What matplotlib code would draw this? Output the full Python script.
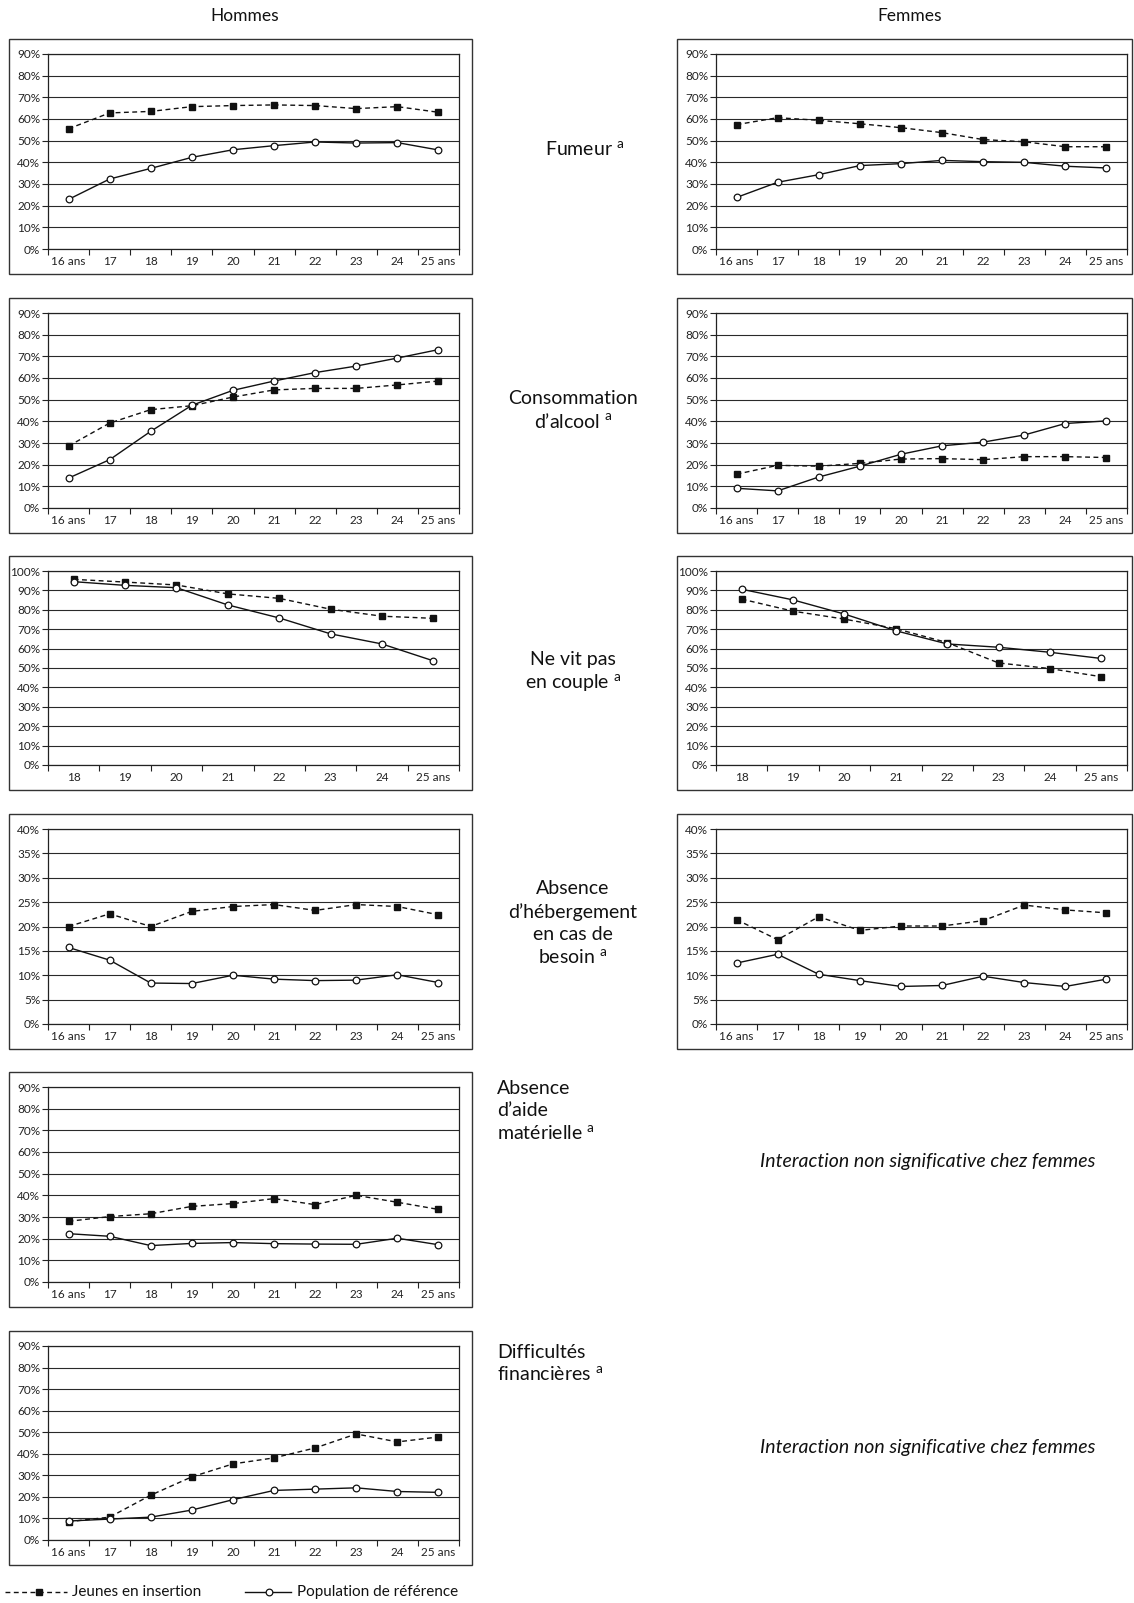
import matplotlib
matplotlib.use("Agg")
import matplotlib.pyplot as plt
from matplotlib.patches import Rectangle
import numpy as np

plt.rcParams['font.family'] = ['Lato', 'DejaVu Sans']
plt.rcParams['mathtext.fontset'] = 'custom'
plt.rcParams['mathtext.rm'] = 'Lato'

W, H = 1134, 1603

# categories
ages_16 = ['16 ans', '17', '18', '19', '20', '21', '22', '23', '24', '25 ans']
ages_18 = ['18', '19', '20', '21', '22', '23', '24', '25 ans']

# Fumeur
fum_h_jeunes = [55.5, 62.8, 63.5, 65.7, 66.2, 66.5, 66.2, 64.8, 65.7, 63.1]
fum_h_ref = [22.9, 32.3, 37.2, 42.3, 45.8, 47.7, 49.4, 48.9, 49.1, 45.7]
fum_f_jeunes = [57.4, 60.6, 59.4, 57.8, 56.0, 53.7, 50.5, 49.5, 47.2, 47.2]
fum_f_ref = [23.8, 30.8, 34.3, 38.5, 39.4, 40.9, 40.3, 40.0, 38.2, 37.4]

# Consommation d'alcool
alc_h_jeunes = [28.6, 39.2, 45.4, 47.2, 51.2, 54.5, 55.2, 55.2, 56.8, 58.6]
alc_h_ref = [13.8, 22.3, 35.4, 47.4, 54.3, 58.6, 62.5, 65.5, 69.2, 73.1]
alc_f_jeunes = [15.6, 19.7, 19.3, 20.6, 22.6, 22.8, 22.3, 23.7, 23.7, 23.3]
alc_f_ref = [9.1, 7.9, 14.3, 19.3, 24.8, 28.7, 30.4, 33.7, 39.0, 40.2]

# Ne vit pas en couple (18-25 ans)
cpl_h_jeunes = [95.7, 94.3, 92.8, 88.2, 85.9, 80.3, 76.7, 75.6]
cpl_h_ref = [94.5, 92.6, 91.4, 82.5, 75.8, 67.6, 62.4, 53.7]
cpl_f_jeunes = [85.5, 79.3, 75.2, 70.3, 63.1, 52.6, 49.7, 45.5]
cpl_f_ref = [90.6, 85.1, 77.8, 69.2, 62.4, 60.7, 58.1, 54.9]

# Absence d'hebergement en cas de besoin
heb_h_jeunes = [20.0, 22.6, 20.0, 23.1, 24.1, 24.5, 23.3, 24.5, 24.1, 22.4]
heb_h_ref = [15.7, 13.1, 8.4, 8.3, 10.0, 9.2, 8.9, 9.0, 10.1, 8.5]
heb_f_jeunes = [21.4, 17.3, 22.0, 19.2, 20.1, 20.1, 21.2, 24.4, 23.4, 22.8]
heb_f_ref = [12.5, 14.3, 10.2, 8.9, 7.7, 7.9, 9.8, 8.5, 7.7, 9.2]

# Absence d'aide materielle (hommes)
aid_h_jeunes = [28.0, 30.2, 31.5, 34.9, 36.2, 38.5, 35.7, 40.0, 36.8, 33.5]
aid_h_ref = [22.3, 21.1, 16.8, 17.8, 18.2, 17.7, 17.5, 17.4, 20.2, 17.2]

# Difficultes financieres (hommes)
fin_h_jeunes = [8.5, 10.6, 20.8, 29.3, 35.3, 38.1, 42.7, 49.2, 45.5, 47.8]
fin_h_ref = [8.8, 9.7, 10.6, 13.9, 18.7, 23.0, 23.6, 24.2, 22.5, 22.1]

# axes rows in pixels (top, bottom)
rows = [(54, 249), (313, 508), (571, 765), (829, 1024), (1087, 1282), (1346, 1540)]
cols = [(48, 459), (716, 1127)]
frames_x = [(9, 472), (677, 1132)]

DASH = (0, (3.5, 2.5))


def draw_panel(fig, row, col, labels, jeunes, ref, ymax, ystep):
    top, bot = rows[row]
    x0, x1 = cols[col]
    ax = fig.add_axes([x0 / W, 1 - bot / H, (x1 - x0) / W, (bot - top) / H])
    x = np.arange(len(labels))
    ax.plot(x, jeunes, ls=DASH, color='#111111', lw=1.0,
            marker='s', ms=4.4, mfc='#111111', mec='#111111', zorder=3)
    ax.plot(x, ref, ls='-', color='#111111', lw=1.0,
            marker='o', ms=4.8, mfc='white', mec='#111111', mew=0.9, zorder=4)
    ax.set_xlim(-0.5, len(labels) - 0.5)
    ax.set_ylim(0, ymax)
    yt = np.arange(0, ymax + 0.1, ystep)
    ax.set_yticks(yt)
    ax.set_yticklabels([f'{int(v)}%' for v in yt])
    ax.set_xticks(x)
    ax.set_xticklabels(labels)
    ax.set_xticks(np.arange(-0.5, len(labels)), minor=True)
    ax.tick_params(axis='x', which='major', length=0, pad=5, labelsize=8.5, colors='#222222')
    ax.tick_params(axis='x', which='minor', length=4, width=0.8, direction='out', color='#222222')
    ax.tick_params(axis='y', length=4, width=0.8, direction='out', pad=1.5, labelsize=8.5, colors='#222222')
    ax.grid(axis='y', color='#2a2a2a', lw=0.8)
    ax.set_axisbelow(True)
    for s in ax.spines.values():
        s.set_color('#222222')
        s.set_linewidth(0.9)
    ax.set_facecolor('none')
    return ax


fig = plt.figure(figsize=(W / 100, H / 100), dpi=100)

# overlay for frames, labels and legend (pixel coordinates)
ov = fig.add_axes([0, 0, 1, 1], zorder=-1)
ov.set_xlim(0, W)
ov.set_ylim(H, 0)
ov.axis('off')

panels = [
    (0, 0, ages_16, fum_h_jeunes, fum_h_ref, 90, 10),
    (0, 1, ages_16, fum_f_jeunes, fum_f_ref, 90, 10),
    (1, 0, ages_16, alc_h_jeunes, alc_h_ref, 90, 10),
    (1, 1, ages_16, alc_f_jeunes, alc_f_ref, 90, 10),
    (2, 0, ages_18, cpl_h_jeunes, cpl_h_ref, 100, 10),
    (2, 1, ages_18, cpl_f_jeunes, cpl_f_ref, 100, 10),
    (3, 0, ages_16, heb_h_jeunes, heb_h_ref, 40, 5),
    (3, 1, ages_16, heb_f_jeunes, heb_f_ref, 40, 5),
    (4, 0, ages_16, aid_h_jeunes, aid_h_ref, 90, 10),
    (5, 0, ages_16, fin_h_jeunes, fin_h_ref, 90, 10),
]

for row, col, labels, j, r, ymax, ystep in panels:
    draw_panel(fig, row, col, labels, j, r, ymax, ystep)
    top, bot = rows[row]
    fx0, fx1 = frames_x[col]
    ov.add_patch(Rectangle((fx0, top - 15), fx1 - fx0, bot - top + 40,
                           fill=False, ec='#333333', lw=1.0))

# column headers
ov.text(245, 16, 'Hommes', ha='center', va='center', fontsize=12.5, color='#111111')
ov.text(910, 16, 'Femmes', ha='center', va='center', fontsize=12.5, color='#111111')

lab_kw = dict(fontsize=14, color='#111111', va='center')
ov.text(585, 150, r'Fumeur $^{\mathrm{a}}$', ha='center', **lab_kw)
ov.text(573, 398, 'Consommation', ha='center', **lab_kw)
ov.text(573, 421, r"d’alcool $^{\mathrm{a}}$", ha='center', **lab_kw)
ov.text(573, 660, 'Ne vit pas', ha='center', **lab_kw)
ov.text(573, 683, r'en couple $^{\mathrm{a}}$', ha='center', **lab_kw)
ov.text(573, 889, 'Absence', ha='center', **lab_kw)
ov.text(573, 912, 'd’hébergement', ha='center', **lab_kw)
ov.text(573, 935, 'en cas de', ha='center', **lab_kw)
ov.text(573, 958, r'besoin $^{\mathrm{a}}$', ha='center', **lab_kw)
ov.text(497, 1088, 'Absence', ha='left', **lab_kw)
ov.text(497, 1111, 'd’aide', ha='left', **lab_kw)
ov.text(497, 1134, r'matérielle $^{\mathrm{a}}$', ha='left', **lab_kw)
ov.text(497, 1352, 'Difficultés', ha='left', **lab_kw)
ov.text(497, 1375, r'financières $^{\mathrm{a}}$', ha='left', **lab_kw)
ov.text(928, 1162, 'Interaction non significative chez femmes', ha='center',
        style='italic', **lab_kw)
ov.text(928, 1447, 'Interaction non significative chez femmes', ha='center',
        style='italic', **lab_kw)

# legend
ly = 1592
leg_kw = dict(fontsize=11, color='#111111', va='center')
ov.plot([5, 67], [ly, ly], ls=DASH, color='#111111', lw=1.0)
ov.plot([39], [ly], marker='s', ms=4.4, color='#111111')
ov.text(72, ly, 'Jeunes en insertion', ha='left', **leg_kw)
ov.plot([245, 291], [ly, ly], ls='-', color='#111111', lw=1.0)
ov.plot([269], [ly], marker='o', ms=4.8, mfc='white', mec='#111111', mew=0.9)
ov.text(297, ly, 'Population de référence', ha='left', **leg_kw)

fig.savefig('out.png', dpi=100)
